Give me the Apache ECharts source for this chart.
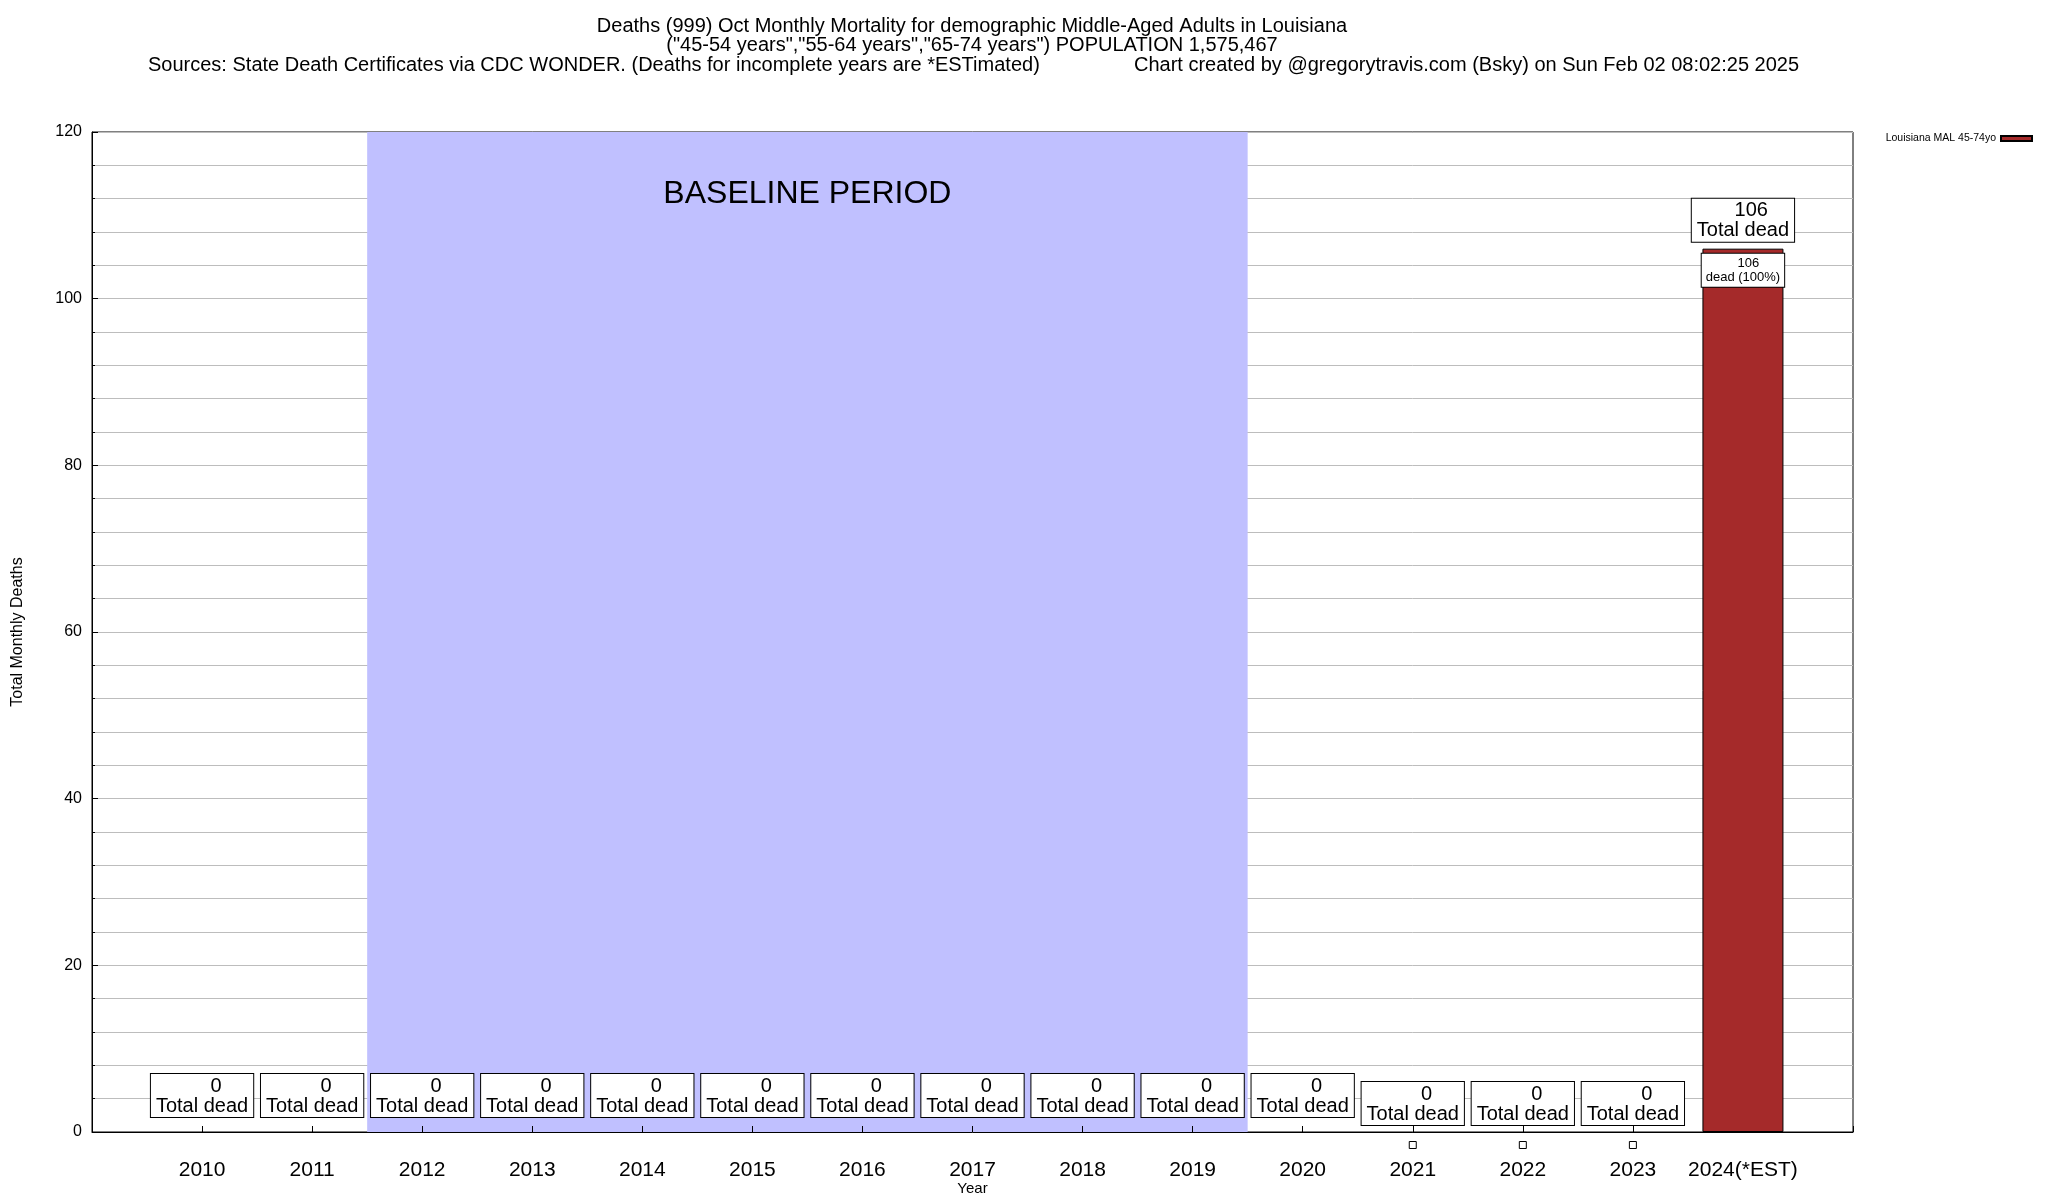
<!DOCTYPE html>
<html>
<head>
<meta charset="utf-8">
<script src="https://cdn.jsdelivr.net/npm/echarts@6/dist/echarts.min.js"></script>
<style>
html,body{margin:0;padding:0;background:#fff;}
#chart{width:2048px;height:1200px;}
</style>
</head>
<body>
<div id="chart"></div>
<script>
// ---- data ----
const years = ['2010','2011','2012','2013','2014','2015','2016','2017','2018','2019','2020','2021','2022','2023','2024(*EST)'];
const deaths = [0,0,0,0,0,0,0,0,0,0,0,0,0,0,106];
const sharePct = [0,0,0,0,0,0,0,0,0,0,0,0,0,0,100];
const markYears = ['2021','2022','2023'];
const baselineStart = '2012';
const baselineEnd = '2019';
const yTicks = [0,20,40,60,80,100,120];
const seriesName = 'Louisiana MAL 45-74yo';
const titleLines = [
  'Deaths (999) Oct Monthly Mortality for demographic Middle-Aged Adults in Louisiana',
  '("45-54 years","55-64 years","65-74 years") POPULATION 1,575,467'
];
const sourceText = 'Sources: State Death Certificates via CDC WONDER. (Deaths for incomplete years are *ESTimated)';
const creditText = 'Chart created by @gregorytravis.com (Bsky) on Sun Feb 02 08:02:25 2025';

// ---- build ----
const FONT = '"Liberation Sans", Arial, Helvetica, sans-serif';
const chart = echarts.init(document.getElementById('chart'));
const bsIdx = years.indexOf(baselineStart) - 0.5;
const beIdx = years.indexOf(baselineEnd) + 0.5;

const barData = deaths.map((v, i) => ({
  value: [i, v],
  itemStyle: v > 0 ? {} : { borderWidth: 0 },
  label: { show: v > 0, formatter: String(v).padStart(6, ' ') + '\ndead (' + sharePct[i] + '%)' }
}));

const totalLabelData = deaths.map((v, i) => ({
  value: [i, v],
  label: { distance: (v > 0 || markYears.indexOf(years[i]) >= 0) ? 7 : 15 }
}));

const markData = years.map((y, i) => markYears.indexOf(y) >= 0 ? [i, 0] : null).filter(d => d);

chart.setOption({
  animation: false,
  textStyle: { fontFamily: FONT, color: '#000' },
  grid: { left: 92, right: 195, top: 132, bottom: 68, outerBoundsMode: 'none', containLabel: false, show: true, borderColor: '#000', borderWidth: 1, backgroundColor: 'transparent', z: 1 },
  legend: {
    data: [seriesName], right: 10, top: 128, align: 'right',
    itemWidth: 31, itemHeight: 5, icon: 'rect', itemGap: 6,
    textStyle: { fontSize: 10.5, color: '#000', fontFamily: FONT }
  },
  graphic: [
    { type: 'text', x: 972, y: 26, style: { text: titleLines[0], font: '20px ' + FONT, fill: '#000', textAlign: 'center', textVerticalAlign: 'middle' } },
    { type: 'text', x: 972, y: 45.5, style: { text: titleLines[1], font: '20px ' + FONT, fill: '#000', textAlign: 'center', textVerticalAlign: 'middle' } },
    { type: 'text', x: 148, y: 65, style: { text: sourceText, font: '20px ' + FONT, fill: '#000', textAlign: 'left', textVerticalAlign: 'middle' } },
    { type: 'text', x: 1134, y: 65, style: { text: creditText, font: '20px ' + FONT, fill: '#000', textAlign: 'left', textVerticalAlign: 'middle' } }
  ],
  xAxis: {
    type: 'value', min: -1, max: years.length, interval: 1, z: 1,
    name: 'Year', nameLocation: 'middle', nameGap: 49, nameMoveOverlap: false,
    nameTextStyle: { fontSize: 15, color: '#000', fontFamily: FONT },
    axisLine: { show: true, onZero: false, lineStyle: { color: '#000', width: 1 } },
    axisTick: { show: true, inside: true, length: 6, lineStyle: { color: '#000' } },
    axisLabel: {
      fontSize: 21, color: '#000', margin: 28, fontFamily: FONT,
      showMinLabel: true, showMaxLabel: true,
      formatter: v => (Number.isInteger(v) && v >= 0 && v < years.length) ? years[v] : ''
    },
    splitLine: { show: false }
  },
  yAxis: {
    type: 'value', min: yTicks[0], max: yTicks[yTicks.length - 1], interval: yTicks[1] - yTicks[0], z: 1,
    name: 'Total Monthly Deaths', nameLocation: 'middle', nameGap: 66, nameMoveOverlap: false,
    nameTextStyle: { fontSize: 16, color: '#000', fontFamily: FONT },
    axisLine: { show: true, onZero: false, lineStyle: { color: '#000', width: 1 } },
    axisTick: { show: true, inside: true, length: 6, lineStyle: { color: '#000' } },
    minorTick: { show: true, splitNumber: 5, length: 3, lineStyle: { color: '#000' } },
    axisLabel: { fontSize: 16, color: '#000', margin: 10, fontFamily: FONT },
    splitLine: { show: true, lineStyle: { color: '#bdbdbd', width: 1 } },
    minorSplitLine: { show: true, lineStyle: { color: '#bdbdbd', width: 1 } }
  },
  series: [
    {
      type: 'line', data: [], z: 0, silent: true,
      markArea: {
        silent: true,
        itemStyle: { color: '#c0c0ff', opacity: 1 },
        label: { show: true, position: 'insideTop', distance: 46, fontSize: 32, color: '#000', fontFamily: FONT },
        data: [[{ xAxis: bsIdx, name: 'BASELINE PERIOD' }, { xAxis: beIdx }]]
      }
    },
    {
      name: seriesName, type: 'bar', z: 3, barWidth: 81,
      itemStyle: { color: '#a52a2a', borderColor: '#000', borderWidth: 1 },
      label: {
        position: 'insideTop', distance: 5, fontSize: 13, lineHeight: 14, color: '#000', opacity: 1,
        backgroundColor: '#ffffff', borderColor: '#000', borderWidth: 1, padding: [3, 4, 2, 4], align: 'center', fontFamily: FONT
      },
      data: barData
    },
    {
      type: 'scatter', z: 4, symbolSize: 0, silent: true,
      label: {
        show: true, position: 'top', fontSize: 20, lineHeight: 20, color: '#000', opacity: 1,
        backgroundColor: '#ffffff', borderColor: '#000', borderWidth: 1, padding: [2, 5, 1, 5], align: 'center', fontFamily: FONT,
        formatter: p => String(p.value[1]).padStart(6, ' ') + '\nTotal dead'
      },
      data: totalLabelData
    },
    {
      type: 'scatter', z: 4, symbol: 'rect', symbolSize: 7, symbolOffset: [0, 13], clip: false, silent: true,
      itemStyle: { color: '#fff', borderColor: '#000', borderWidth: 1, opacity: 1 },
      data: markData
    }
  ]
});
</script>
</body>
</html>
